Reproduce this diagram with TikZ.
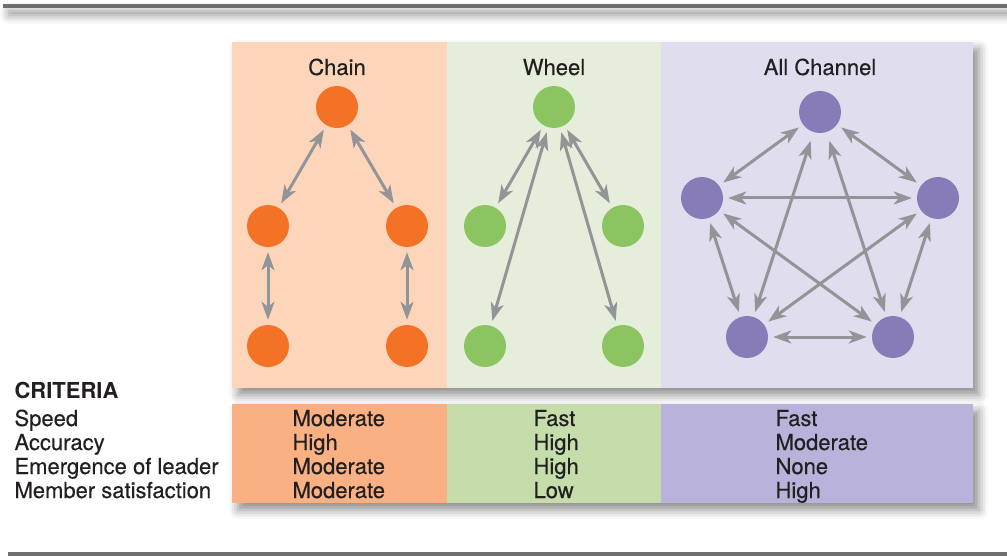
\documentclass[tikz,border=0pt]{standalone}
\usepackage{fontspec}
\setmainfont{TeX Gyre Heros}[UprightFeatures={FakeBold=0.3}]
\usetikzlibrary{arrows.meta,shadows.blur}
\definecolor{chainbg}{HTML}{FDD5BA}
\definecolor{wheelbg}{HTML}{E5EEDA}
\definecolor{allbg}{HTML}{E0DDEE}
\definecolor{chaintab}{HTML}{F9B184}
\definecolor{wheeltab}{HTML}{C5DDAA}
\definecolor{alltab}{HTML}{B9B2DA}
\definecolor{chaindot}{HTML}{F37225}
\definecolor{wheeldot}{HTML}{8DC462}
\definecolor{alldot}{HTML}{877BB8}
\definecolor{arrowgray}{HTML}{929497}
\definecolor{rulegray}{HTML}{6D6E70}
\definecolor{txt}{HTML}{231F20}
\begin{document}
\begin{tikzpicture}[x=1pt,y=-1pt,
    font=\fontsize{22}{24}\selectfont,
    every node/.style={text=txt},
    >={Stealth[length=18pt,width=13pt,inset=5pt]},
    link/.style={<->,draw=arrowgray,line width=3pt,shorten >=5pt,shorten <=5pt},
    dot/.style={circle,inner sep=0pt,minimum size=42pt},
    soft/.style={blur shadow={shadow xshift=6pt,shadow yshift=-7pt,shadow blur radius=9pt,shadow opacity=45}}]
    \useasboundingbox (0,0) rectangle (1007,556);

    % Linien oben und unten
    \fill[rulegray,soft] (3,4) rectangle (1007,8);
    \fill[rulegray] (8,552) rectangle (1007,556);

    % Felder mit den Netzen
    \fill[white,soft] (232,42) rectangle (973,388);
    \fill[chainbg] (232,42) rectangle (447,388);
    \fill[wheelbg] (447,42) rectangle (661,388);
    \fill[allbg] (661,42) rectangle (973,388);

    % Tabelle
    \fill[white,soft] (232,404) rectangle (973,503);
    \fill[chaintab] (232,404) rectangle (447,503);
    \fill[wheeltab] (447,404) rectangle (661,503);
    \fill[alltab] (661,404) rectangle (973,503);

    % Titel
    \node[anchor=base] (tchain) at (337,75) {Chain};
    \node[anchor=base] (twheel) at (554,75) {Wheel};
    \node[anchor=base] (tall) at (820,75) {All Channel};

    % Chain
    \node[dot,fill=chaindot] (c1) at (337,107) {};
    \node[dot,fill=chaindot] (c2) at (268,226) {};
    \node[dot,fill=chaindot] (c3) at (407,226) {};
    \node[dot,fill=chaindot] (c4) at (268,346) {};
    \node[dot,fill=chaindot] (c5) at (407,346) {};
    \draw[link] (c1) -- (c2);
    \draw[link] (c1) -- (c3);
    \draw[link] (c2) -- (c4);
    \draw[link] (c3) -- (c5);

    % Wheel
    \node[dot,fill=wheeldot] (w1) at (554,107) {};
    \node[dot,fill=wheeldot] (w2) at (485,226) {};
    \node[dot,fill=wheeldot] (w3) at (623,226) {};
    \node[dot,fill=wheeldot] (w4) at (485,346) {};
    \node[dot,fill=wheeldot] (w5) at (623,346) {};
    \draw[link] (w1) -- (w2);
    \draw[link] (w1) -- (w3);
    \draw[link] (w1) -- (w4);
    \draw[link] (w1) -- (w5);

    % All Channel
    \node[dot,fill=alldot] (a1) at (820,112) {};
    \node[dot,fill=alldot] (a2) at (702,198) {};
    \node[dot,fill=alldot] (a3) at (938,198) {};
    \node[dot,fill=alldot] (a4) at (747,337) {};
    \node[dot,fill=alldot] (a5) at (893,337) {};
    \draw[link] (a1) -- (a2);
    \draw[link] (a1) -- (a3);
    \draw[link] (a2) -- (a3);
    \draw[link] (a2) -- (a4);
    \draw[link] (a3) -- (a5);
    \draw[link] (a4) -- (a5);
    \draw[link,shorten <=9pt] (a1) -- (a4);
    \draw[link,shorten <=9pt] (a1) -- (a5);
    \draw[link] (a2) -- (a5);
    \draw[link] (a3) -- (a4);

    % Kriterien
    \node[anchor=base west,font=\fontsize{22}{24}\selectfont\bfseries] (crit) at (11,398) {CRITERIA};
    \node[anchor=base west] (speed) at (11,426) {Speed};
    \node[anchor=base west] (acc) at (11,450) {Accuracy};
    \node[anchor=base west] (lead) at (11,474) {Emergence of leader};
    \node[anchor=base west] (sat) at (11,498) {Member satisfaction};

    % Werte
    \node[anchor=base west] (cv1) at (289,426) {Moderate};
    \node[anchor=base west] (cv2) at (289,450) {High};
    \node[anchor=base west] (cv3) at (289,474) {Moderate};
    \node[anchor=base west] (cv4) at (289,498) {Moderate};
    \node[anchor=base west] (wv1) at (530,426) {Fast};
    \node[anchor=base west] (wv2) at (530,450) {High};
    \node[anchor=base west] (wv3) at (530,474) {High};
    \node[anchor=base west] (wv4) at (530,498) {Low};
    \node[anchor=base west] (av1) at (772,426) {Fast};
    \node[anchor=base west] (av2) at (772,450) {Moderate};
    \node[anchor=base west] (av3) at (772,474) {None};
    \node[anchor=base west] (av4) at (772,498) {High};
\end{tikzpicture}
\end{document}
